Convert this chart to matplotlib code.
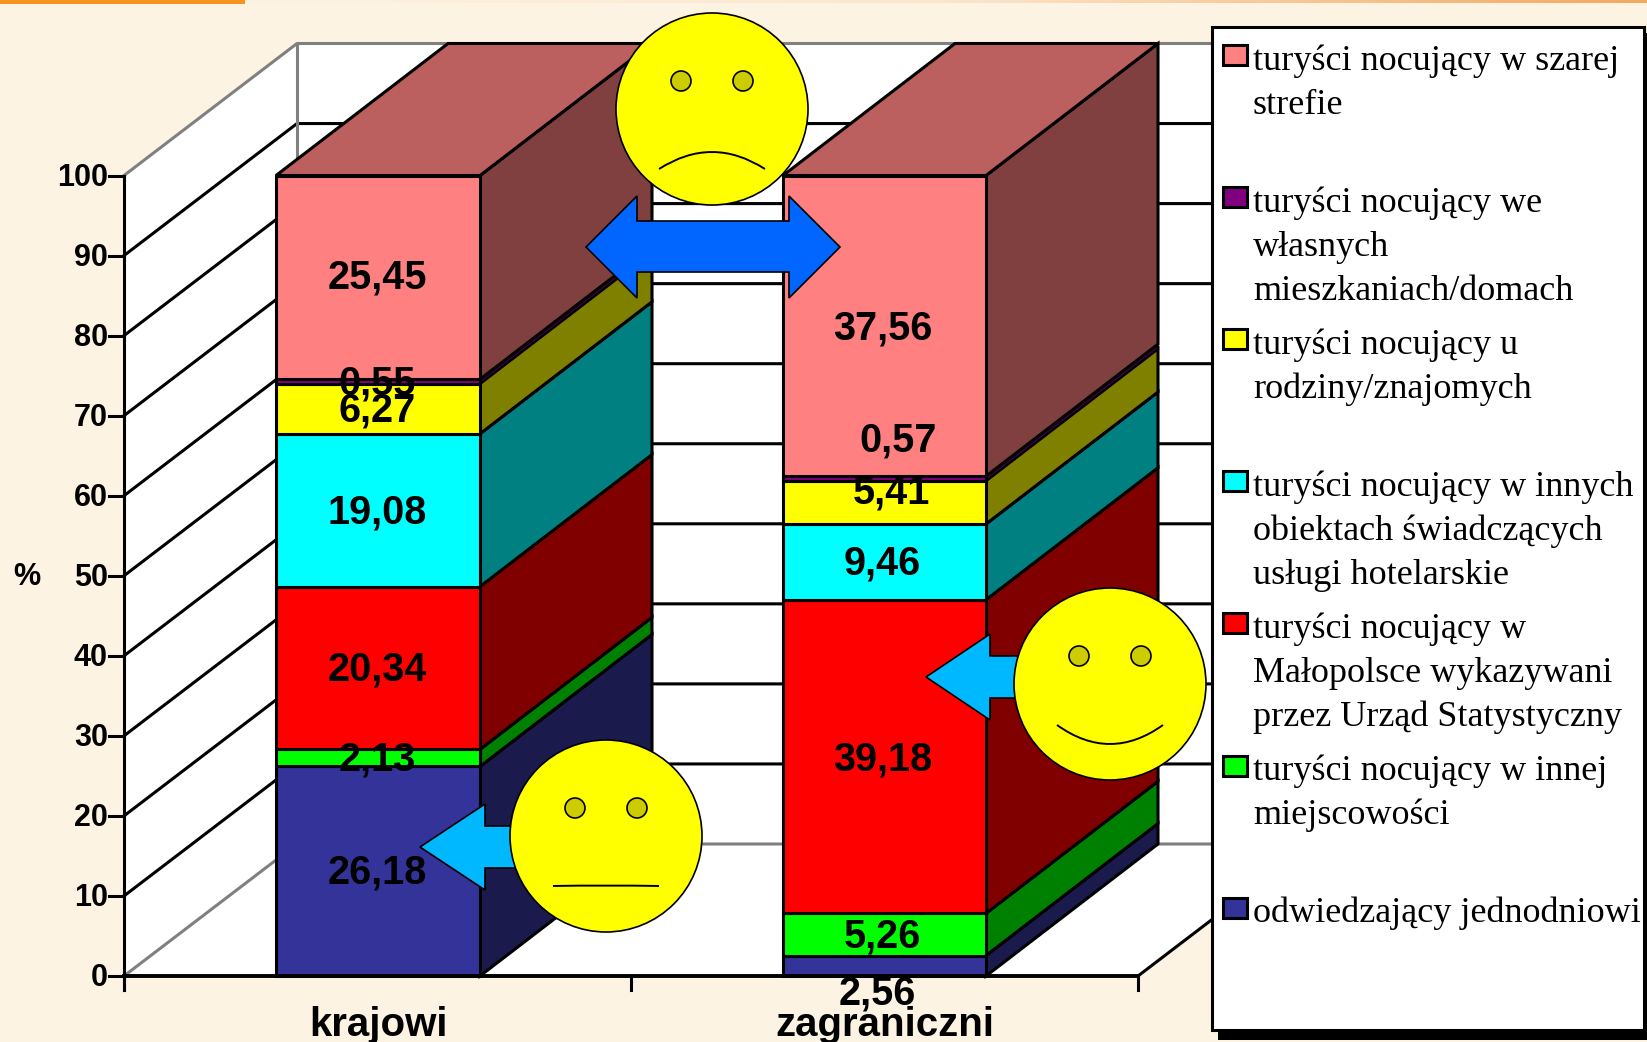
import numpy as np
import matplotlib
matplotlib.use("Agg")
import matplotlib.pyplot as plt
from matplotlib.patches import Polygon, Ellipse, Rectangle, PathPatch
from matplotlib.path import Path
from matplotlib.colors import LinearSegmentedColormap

# data, bottom to top of the stack
categories = ["krajowi", "zagraniczni"]
krajowi = [26.18, 2.13, 20.34, 19.08, 6.27, 0.55, 25.45]
zagraniczni = [2.56, 5.26, 39.18, 9.46, 5.41, 0.57, 37.56]
front_colors = ["#333399", "#00FF00", "#FF0000", "#00FFFF", "#FFFF00", "#800080", "#FF8080"]
side_colors = ["#1A1A4D", "#008000", "#800000", "#008080", "#808000", "#400040", "#804040"]
top_color = "#BC5F5F"
legend_labels = [
    "turyści nocujący w szarej\nstrefie",
    "turyści nocujący we\nwłasnych\nmieszkaniach/domach",
    "turyści nocujący u\nrodziny/znajomych",
    "turyści nocujący w innych\nobiektach świadczących\nusługi hotelarskie",
    "turyści nocujący w\nMałopolsce wykazywani\nprzez Urząd Statystyczny",
    "turyści nocujący w innej\nmiejscowości",
    "odwiedzający jednodniowi",
]
legend_colors = front_colors[::-1]
yticks = list(range(0, 101, 10))

# label nudges in pixels, the original has them a bit off centre
kraj_nudge = [(-1, -3), (-1, -2), (-1, -2), (-1, -2), (-1, -2), (-1, -2), (-1, -4)]
zagr_nudge = [(-7, 24), (-2, -2), (-2, -1), (-2, -2), (7, -14), (14, -42), (-2, -1)]

# geometry of the 3d box, in image pixels
BG = "#FDF3E3"
X0, X1 = 124, 1138
Y0, Y100 = 976, 175.5
DX, DY = 173, 132
bar_x = [(276, 480), (783, 986)]
BAR_DX = 172
LW = 2.2

def ypix(v):
    return Y0 - (Y0 - Y100) * v / 100.0

fig = plt.figure(figsize=(16.47, 10.42), dpi=100, facecolor=BG)
ax = fig.add_axes([0, 0, 1, 1])

# strip along the top edge
cmap = LinearSegmentedColormap.from_list("strip", [BG, "#FBE6CC", "#F4A860"])
ax.imshow(np.linspace(0, 1, 256).reshape(1, -1), extent=(245, 1647, 3.5, 0), cmap=cmap, aspect="auto", zorder=1)
ax.add_patch(Rectangle((0, 0), 245, 3.5, fc="#F7941E", ec="none", zorder=2))
ax.set_xlim(0, 1647)
ax.set_ylim(1042, 0)
ax.axis("off")

# walls and floor
ax.add_patch(Polygon([(X0, Y0), (X1, Y0), (X1 + DX, Y0 - DY), (X0 + DX, Y0 - DY)], fc="white", ec="none", zorder=2))
ax.add_patch(Polygon([(X0, Y0), (X0 + DX, Y0 - DY), (X0 + DX, Y100 - DY), (X0, Y100)], fc="white", ec="none", zorder=2))
ax.add_patch(Rectangle((X0 + DX, Y100 - DY), 1230 - X0 - DX, Y0 - Y100, fc="white", ec="none", zorder=2))

for v in yticks[1:-1]:
    y = ypix(v)
    ax.plot([X0, X0 + DX, 1230], [y, y - DY, y - DY], color="black", lw=LW, zorder=3, solid_joinstyle="miter")
gray = "#808080"
ax.plot([X0, X0 + DX, 1230], [Y100, Y100 - DY, Y100 - DY], color=gray, lw=LW, zorder=3)
ax.plot([X0, X0 + DX, 1230], [Y0, Y0 - DY, Y0 - DY], color=gray, lw=LW, zorder=3)
ax.plot([X0 + DX, X0 + DX], [Y0 - DY, Y100 - DY], color=gray, lw=LW, zorder=3)
ax.plot([X1, X1 + DX], [Y0, Y0 - DY], color="black", lw=LW, zorder=3)

# stacked 3d bars
for (x_a, x_b), vals in zip(bar_x, [krajowi, zagraniczni]):
    bottom = 0
    for val, fc, sc in zip(vals, front_colors, side_colors):
        y_a, y_b = ypix(bottom), ypix(bottom + val)
        # the thin purple band has a finer outline on its side face
        side_lw = LW * 0.5 if val < 1 else LW
        ax.add_patch(Polygon([(x_b, y_a), (x_b + BAR_DX, y_a - DY), (x_b + BAR_DX, y_b - DY), (x_b, y_b)],
                             fc=sc, ec="black", lw=side_lw, zorder=4, joinstyle="miter"))
        ax.add_patch(Rectangle((x_a, y_b), x_b - x_a, y_a - y_b, fc=fc, ec="black", lw=LW, zorder=5))
        bottom += val
    ax.add_patch(Polygon([(x_a, ypix(bottom)), (x_b, ypix(bottom)), (x_b + BAR_DX, ypix(bottom) - DY), (x_a + BAR_DX, ypix(bottom) - DY)],
                         fc=top_color, ec="black", lw=LW, zorder=4, joinstyle="miter"))

# axes lines and ticks
ax.plot([X0, X0], [Y100, Y0 + 14], color="black", lw=LW, zorder=6)
ax.plot([X0, X1], [Y0, Y0], color="black", lw=2.8, zorder=6)
for v in yticks:
    ax.plot([X0 - 15, X0], [ypix(v), ypix(v)], color="black", lw=LW, zorder=6)
    ax.text(X0 - 16, ypix(v) - 1, str(v), ha="right", va="center_baseline", fontsize=22,
            family="Liberation Sans", weight="bold", zorder=7)
for x in [X0, (X0 + X1) / 2, X1]:
    ax.plot([x, x], [Y0, Y0 + 14], color="black", lw=LW, zorder=6)
ax.text(27, 577, "%", ha="center", va="center", fontsize=22, family="Liberation Sans", weight="bold", zorder=7)
for name, (x_a, x_b) in zip(categories, bar_x):
    ax.text((x_a + x_b) / 2, 1021, name, ha="center", va="center_baseline", fontsize=29,
            family="Liberation Sans", weight="bold", zorder=7)

# value labels
for (x_a, x_b), vals, nudge in zip(bar_x, [krajowi, zagraniczni], [kraj_nudge, zagr_nudge]):
    bottom = 0
    for val, (nx, ny) in zip(vals, nudge):
        ax.text((x_a + x_b) / 2 + nx, ypix(bottom + val / 2) + ny, f"{val:.2f}".replace(".", ","),
                ha="center", va="center_baseline", fontsize=28.5, family="Liberation Sans", weight="bold", zorder=12)
        bottom += val

def arrow(tip, back, end, yc, head, shaft, color):
    pts = [(tip, yc), (back, yc - head), (back, yc - shaft), (end, yc - shaft),
           (end, yc + shaft), (back, yc + shaft), (back, yc + head)]
    ax.add_patch(Polygon(pts, fc=color, ec="black", lw=1.2, zorder=13, joinstyle="miter"))

def smiley(cx, cy, mouth_y, curve):
    ax.add_patch(Ellipse((cx, cy), 192, 192, fc="#FFFF00", ec="black", lw=1.2, zorder=14))
    for ex in [cx - 31, cx + 31]:
        ax.add_patch(Ellipse((ex, cy - 28), 20, 20, fc="#CCCC00", ec="black", lw=1.2, zorder=15))
    my = cy + mouth_y
    path = Path([(cx - 53, my), (cx, my + curve), (cx + 53, my)], [Path.MOVETO, Path.CURVE3, Path.CURVE3])
    ax.add_patch(PathPatch(path, fc="none", ec="black", lw=1.4, zorder=15))

# double arrow between the columns
ax.add_patch(Polygon([(586, 247), (637, 196), (637, 221), (789, 221), (789, 196), (840, 247),
                      (789, 298), (789, 272), (637, 272), (637, 298)],
                     fc="#0066FF", ec="black", lw=1.2, zorder=13, joinstyle="miter"))
arrow(926, 990, 1030, 677, 43, 21, "#00B8FF")
arrow(420, 485, 530, 847, 43, 21, "#00B8FF")
smiley(712, 109, 60, -34)
smiley(1110, 684, 41, 38)
smiley(606, 836, 50, -1)

# legend box
ax.add_patch(Rectangle((1218, 33), 432, 1007, fc="black", ec="none", zorder=20))
ax.add_patch(Rectangle((1212, 27), 432, 1003, fc="white", ec="black", lw=2.2, zorder=21))
leg_y = 57
for label, col in zip(legend_labels, legend_colors):
    ax.add_patch(Rectangle((1223, leg_y - 12), 24, 20, fc=col, ec="black", lw=LW, zorder=22))
    for i, part in enumerate(label.split("\n")):
        ax.text(1253, leg_y + i * 44, part, ha="left", va="center_baseline", fontsize=26,
                family="Liberation Serif", zorder=22)
    leg_y += 142.1

fig.savefig("out.png", dpi=100, facecolor=BG)
